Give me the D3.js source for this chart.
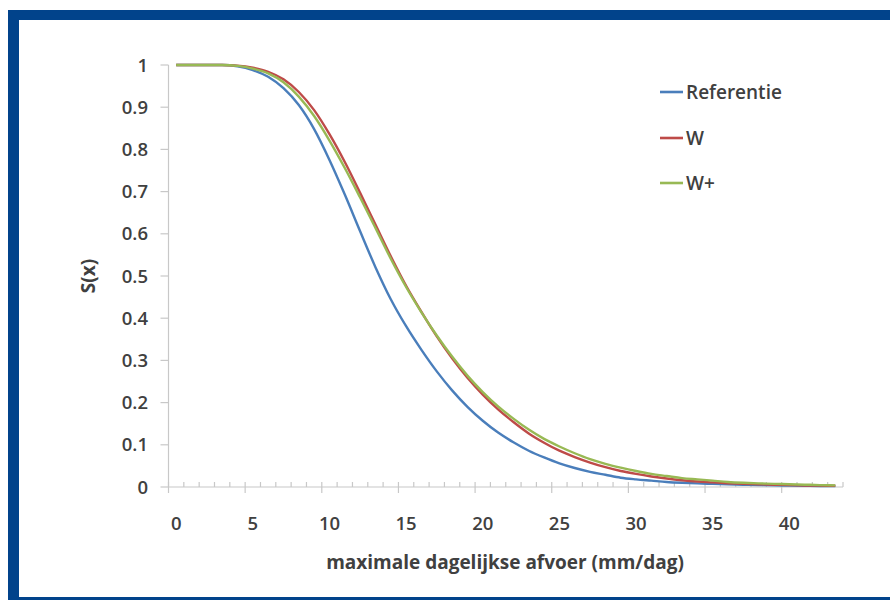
<!DOCTYPE html>
<html>
<head>
<meta charset="utf-8">
<script src="https://cdn.jsdelivr.net/npm/d3@7"></script>
<style>
  html, body { margin: 0; padding: 0; background: #fff; }
  svg { display: block; }
  text { font-family: "Open Sans", "Noto Sans", sans-serif; fill: #404040; }
</style>
</head>
<body>
<svg id="chart" width="890" height="600"></svg>
<script>
// ---- data ----
const xValues = [0,1,2,3,4,5,6,7,8,9,10,11,12,13,14,15,16,17,18,19,20,21,22,23,24,25,26,27,28,29,30,31,32,33,34,35,36,37,38,39,40,41,42,43];
const referentie = [1,1,1,1,0.997,0.988,0.972,0.945,0.905,0.848,0.775,0.693,0.606,0.521,0.445,0.381,0.325,0.274,0.229,0.19,0.157,0.129,0.106,0.086,0.07,0.056,0.045,0.036,0.029,0.022,0.018,0.015,0.012,0.01,0.0085,0.0075,0.0065,0.0055,0.0045,0.004,0.0033,0.0028,0.0023,0.002];
const seriesW = [1,1,1,1,0.9985,0.9935,0.984,0.966,0.936,0.893,0.836,0.77,0.697,0.622,0.547,0.477,0.415,0.357,0.305,0.259,0.219,0.184,0.154,0.127,0.105,0.086,0.071,0.058,0.047,0.038,0.031,0.025,0.02,0.016,0.013,0.011,0.009,0.0075,0.0065,0.0055,0.0045,0.0037,0.0032,0.0028];
const seriesWplus = [1,1,1,1,0.998,0.9915,0.98,0.959,0.925,0.879,0.821,0.756,0.686,0.614,0.541,0.474,0.414,0.359,0.309,0.264,0.225,0.191,0.162,0.136,0.114,0.096,0.08,0.066,0.055,0.046,0.038,0.031,0.026,0.021,0.018,0.015,0.012,0.01,0.0085,0.0075,0.0065,0.0055,0.0045,0.0038];
const seriesNames = ["Referentie", "W", "W+"];
const seriesColors = ["#4a7ebb", "#be4b48", "#98b954"];
const xTickLabels = [0,5,10,15,20,25,30,35,40];
const yTickValues = [0,0.1,0.2,0.3,0.4,0.5,0.6,0.7,0.8,0.9,1];
const xTitle = "maximale dagelijkse afvoer (mm/dag)";
const yTitle = "S(x)";

// ---- drawing ----
const svg = d3.select("#chart");

// frame (blue border on left, top, bottom)
svg.append("rect").attr("x", 8).attr("y", 10).attr("width", 900).attr("height", 600).attr("fill", "#01438b");
svg.append("rect").attr("x", 19).attr("y", 20).attr("width", 900).attr("height", 577).attr("fill", "#ffffff");

const x = d3.scaleLinear().domain([-0.5, 43.5]).range([168.5, 843]);
const y = d3.scaleLinear().domain([0, 1]).range([487, 65]);
const axisColor = "#c8c8c8";

// y axis
const gy = svg.append("g");
gy.append("line").attr("x1", x(-0.5)).attr("x2", x(-0.5)).attr("y1", y(1)).attr("y2", y(0) + 6)
  .attr("stroke", axisColor).attr("stroke-width", 1.2);
gy.selectAll("line.tick").data(yTickValues).join("line")
  .attr("class", "tick")
  .attr("x1", x(-0.5) - 8).attr("x2", x(-0.5))
  .attr("y1", d => y(d)).attr("y2", d => y(d))
  .attr("stroke", axisColor).attr("stroke-width", 1.2);
gy.selectAll("text").data(yTickValues).join("text")
  .attr("x", 148).attr("y", d => y(d)).attr("dy", "0.36em")
  .attr("text-anchor", "end")
  .attr("font-size", 18.5).attr("font-weight", 600)
  .text(d => d3.format("~g")(d));

// x axis
const gx = svg.append("g");
gx.append("line").attr("x1", x(-0.5)).attr("x2", x(43.5)).attr("y1", y(0)).attr("y2", y(0))
  .attr("stroke", axisColor).attr("stroke-width", 1.2);
const boundaries = d3.range(0, 45).map(i => i - 0.5);
gx.selectAll("line.minor").data(boundaries).join("line")
  .attr("class", "minor")
  .attr("x1", d => x(d)).attr("x2", d => x(d))
  .attr("y1", y(0) - 5)
  .attr("y2", (d, i) => (i % 5 === 0 && i > 0 && i < 44) ? y(0) + 6 : y(0))
  .attr("stroke", axisColor).attr("stroke-width", 1.2);
gx.selectAll("text").data(xTickLabels).join("text")
  .attr("x", d => x(d)).attr("y", 523).attr("dy", "0.36em")
  .attr("text-anchor", "middle")
  .attr("font-size", 18.5).attr("font-weight", 600)
  .text(d => d);

// titles
svg.append("text").attr("x", 505).attr("y", 562).attr("dy", "0.36em")
  .attr("text-anchor", "middle").attr("font-size", 19).attr("font-weight", 700)
  .attr("fill", "#262626")
  .text(xTitle);
svg.append("text").attr("transform", "translate(88,276) rotate(-90)").attr("dy", "0.36em")
  .attr("text-anchor", "middle").attr("font-size", 19).attr("font-weight", 700)
  .attr("fill", "#262626")
  .text(yTitle);

// lines
const allSeries = [referentie, seriesW, seriesWplus];
const line = d3.line().x((d, i) => x(xValues[i])).y(d => y(d)).curve(d3.curveMonotoneX);
svg.append("g").selectAll("path").data(allSeries).join("path")
  .attr("d", d => line(d))
  .attr("fill", "none")
  .attr("stroke", (d, i) => seriesColors[i])
  .attr("stroke-width", 2.4)
  .attr("stroke-linejoin", "round");

// legend
const legY = [92, 138, 183];
const leg = svg.append("g");
leg.selectAll("line").data(seriesNames).join("line")
  .attr("x1", 660).attr("x2", 683)
  .attr("y1", (d, i) => legY[i]).attr("y2", (d, i) => legY[i])
  .attr("stroke", (d, i) => seriesColors[i]).attr("stroke-width", 2.6);
leg.selectAll("text").data(seriesNames).join("text")
  .attr("x", 686).attr("y", (d, i) => legY[i]).attr("dy", "0.36em")
  .attr("font-size", 19).attr("font-weight", 600)
  .text(d => d);
</script>
</body>
</html>
